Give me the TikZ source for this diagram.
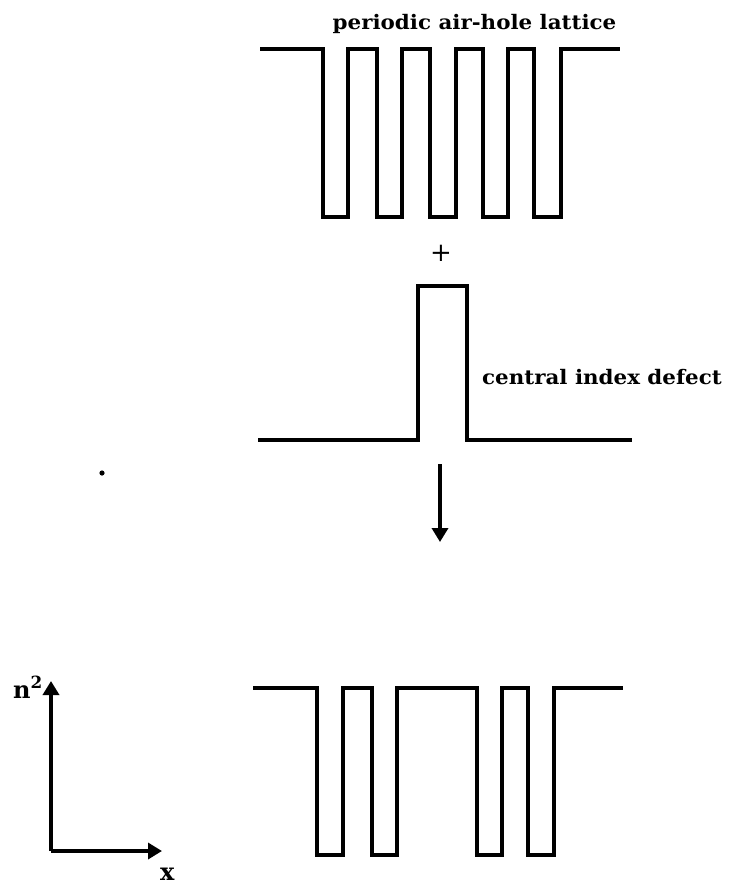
\documentclass[tikz,border=0pt]{standalone}
\usepackage{fontspec}
\setmainfont{DejaVu Serif}
\usetikzlibrary{arrows.meta}
\tikzset{
  profile/.style={line width=3.1pt, line join=miter, line cap=butt},
  axisarrow/.style={line width=3.4pt, -{Triangle[width=16pt,length=14pt]}},
  lbl/.style={font=\fontsize{20}{22}\selectfont\bfseries, inner sep=0pt},
  axlbl/.style={font=\fontsize{24}{26}\selectfont\bfseries, inner sep=0pt}
}
\begin{document}
\begin{tikzpicture}[x=1pt,y=-1pt]
\fill[white] (0,0) rectangle (730,886);
\useasboundingbox (0,0) rectangle (730,886);

% periodic air-hole lattice
\node[lbl, anchor=base] (title) at (474.5,29) {\scalebox{1.07}[1]{periodic air-hole lattice}};
\draw[profile] (260,49) -- (323,49) -- (323,217) -- (348,217) -- (348,49)
  -- (377,49) -- (377,217) -- (402,217) -- (402,49)
  -- (430,49) -- (430,217) -- (456,217) -- (456,49)
  -- (483,49) -- (483,217) -- (508,217) -- (508,49)
  -- (534,49) -- (534,217) -- (561,217) -- (561,49) -- (620,49);

% plus sign
\node[inner sep=0pt, font=\fontsize{26}{28}\selectfont] (plus) at (441,253) {+};

% central index defect
\draw[profile] (258,440) -- (418,440) -- (418,286) -- (467,286) -- (467,440) -- (632,440);
\node[lbl, anchor=base west] (defect) at (482,384) {\scalebox{1.07}[1]{central index defect}};

% stray dot
\fill[black] (102,473) circle (2.6pt);

% arrow
\coordinate (arrA) at (440,464);
\coordinate (arrB) at (440,542);
\draw[axisarrow] (arrA) -- (arrB);

% resulting profile
\draw[profile] (253,688) -- (317,688) -- (317,855) -- (343,855) -- (343,688)
  -- (372,688) -- (372,855) -- (397,855) -- (397,688)
  -- (477,688) -- (477,855) -- (502,855) -- (502,688)
  -- (528,688) -- (528,855) -- (554,855) -- (554,688) -- (623,688);

% axes
\coordinate (orig) at (51,851);
\coordinate (ytip) at (51,681);
\coordinate (xtip) at (162,851);
\draw[axisarrow] (orig) -- (ytip);
\draw[axisarrow] (orig) -- (xtip);
\node[axlbl, anchor=base west] (nlab) at (13,698) {n\textsuperscript{2}};
\node[axlbl, anchor=base west] (xlab) at (160,880) {x};
\end{tikzpicture}
\end{document}
